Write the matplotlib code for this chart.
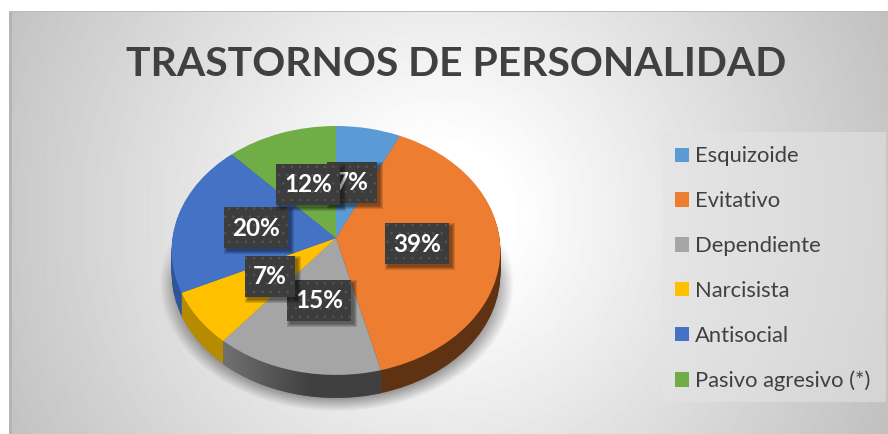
import numpy as np
import matplotlib
matplotlib.use("Agg")
import matplotlib.pyplot as plt
from matplotlib.patches import Rectangle, Polygon, Patch
from matplotlib.transforms import Affine2D, Transform

# data
categories = ["Esquizoide", "Evitativo", "Dependiente", "Narcisista", "Antisocial", "Pasivo agresivo (*)"]
values = [7, 39, 15, 7, 20, 12]
value_labels = ["7%", "39%", "15%", "7%", "20%", "12%"]

# style
top_colors = ["#5b9bd5", "#ed7d31", "#a5a5a5", "#ffc000", "#4472c4", "#70ad47"]
wall_colors = ["#3a6a96", "#5f3213", "#505050", "#b58b00", "#2f5597", "#4e7a32"]
label_centers = [(352, 182), (417, 243), (319, 300), (270, 276), (256, 227), (308, 184)]
text_color = "#404040"
plt.rcParams["font.family"] = ["Lato", "DejaVu Sans"]
plt.rcParams["hatch.linewidth"] = 0.5

CX, CY = 336, 238
RX, RY, PERSP = 163.5, 123.2, 0.1
DEPTH = 23


class Tilt(Transform):
    # unit circle -> tilted disc in pixel coordinates
    input_dims = 2
    output_dims = 2

    def transform_non_affine(self, xy):
        xy = np.asarray(xy, dtype=float)
        d = 1 + PERSP * xy[:, 1]
        return np.column_stack([CX + RX * xy[:, 0] / d, CY - RY * xy[:, 1] / d])


fig = plt.figure(figsize=(8.88, 4.34), dpi=100, facecolor="white")
ax = fig.add_axes([0, 0, 1, 1])
ax.set_axis_off()

# background
yy, xx = np.mgrid[11:434, 9:888]
r = np.hypot(xx - 440, yy - 215)
shade = 1 - 0.25 * np.clip((r - 70) / 430, 0, 1)
ax.imshow(shade, cmap="gray", vmin=0, vmax=1, extent=(9, 888, 434, 11), aspect="auto", zorder=0)
ax.add_patch(Rectangle((9, 11), 2.5, 423, color="#b4b4b4", lw=0, zorder=0.5))
ax.add_patch(Rectangle((9, 11), 879, 1.2, color="#bcbcbc", lw=0, zorder=0.5))

# shadow on the floor
d = np.hypot((xx - 336) / 177, (yy - 283) / 128)
alpha = 0.38 * np.clip((1 - d) / 0.11, 0, 1) * np.clip((yy - 225) / 50, 0, 1)
rgba = np.zeros(alpha.shape + (4,))
rgba[..., 3] = alpha
ax.imshow(rgba, extent=(9, 888, 434, 11), aspect="auto", zorder=1)

# side wall = the same pie stacked downwards
tilt = Tilt()
for step in range(DEPTH, 0, -1):
    wedges, texts = ax.pie(values, colors=wall_colors, startangle=90, counterclock=False,
                           frame=True, wedgeprops={"linewidth": 0})
    for t in texts:
        t.remove()
    for w in wedges:
        w.set_transform(tilt + Affine2D().translate(0, step) + ax.transData)
        w.set_zorder(2)

# gradient on the grey part of the wall
edges = np.cumsum([0] + values) / sum(values) * 2 * np.pi
th = np.linspace(edges[2], edges[3], 60)
rim = tilt.transform_non_affine(np.column_stack([np.sin(th), np.cos(th)]))
wall = Polygon(np.vstack([rim, (rim + [0, DEPTH])[::-1]]), closed=True, transform=ax.transData)
grad = np.clip(0.44 - (np.linspace(200, 400, 200) - 224) / 86 * 0.19, 0.25, 0.44)
im = ax.imshow(grad[None, :], cmap="gray", vmin=0, vmax=1, extent=(200, 400, 400, 340),
               aspect="auto", zorder=2.5)
im.set_clip_path(wall)

# top of the pie
wedges, texts = ax.pie(values, colors=top_colors, startangle=90, counterclock=False,
                       frame=True, wedgeprops={"linewidth": 0})
for t in texts:
    t.remove()
for w in wedges:
    w.set_transform(tilt + ax.transData)
    w.set_zorder(3)

ax.set_aspect("auto")
ax.set_xlim(0, 888)
ax.set_ylim(434, 0)
ax.set_frame_on(False)

# data labels
z = 4
for (x, y), lab in zip(label_centers, value_labels):
    w = 50 if len(lab) == 2 else 64
    h = 41
    for grow in (3, 2, 1, 0):
        ax.add_patch(Rectangle((x - w / 2 + 3 - grow, y - h / 2 + 3 - grow), w + 2 * grow, h + 2 * grow,
                               facecolor="black", alpha=0.13, lw=0, zorder=z))
    ax.add_patch(Rectangle((x - w / 2, y - h / 2), w, h, facecolor="#3c3c3c", edgecolor="#565656",
                           hatch="..", lw=0, zorder=z + 0.1))
    ax.text(x, y + 1, lab, color="white", fontsize=17.5, fontweight="bold", ha="center", va="center",
            zorder=z + 0.2)
    z += 1

# title
ax.text(456, 64, "TRASTORNOS DE PERSONALIDAD", color=text_color, fontsize=29.4, fontweight="bold",
        ha="center", va="center", zorder=20)

# legend
ax.add_patch(Rectangle((662, 132), 224, 270, facecolor="#e4e4e4", alpha=0.55, lw=0, zorder=14))
handles = [Patch(facecolor=c, lw=0) for c in top_colors]
leg = ax.legend(handles, categories, loc="upper left", bbox_to_anchor=(675, 146.5),
                bbox_transform=ax.transData, prop={"size": 15.8}, labelcolor=text_color,
                frameon=False, handlelength=0.64, handleheight=0.64, handletextpad=0.26,
                labelspacing=1.13, borderaxespad=0, borderpad=0)
leg.set_zorder(15)

fig.savefig("out.png", dpi=100)
